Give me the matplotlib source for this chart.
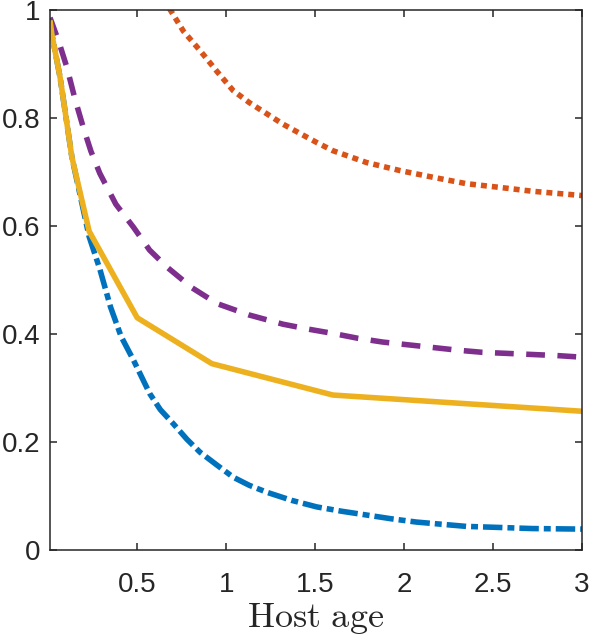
import matplotlib.pyplot as plt

# === DATA ===
# solid yellow curve (piecewise linear)
age_yellow = [0.01, 0.02, 0.067, 0.133, 0.23, 0.5, 0.92, 1.6, 3.0]
val_yellow = [0.98, 0.955, 0.874, 0.727, 0.59, 0.43, 0.345, 0.287, 0.257]

# dash-dot blue curve
age_blue = [0.01, 0.02, 0.067, 0.133, 0.23, 0.26, 0.29, 0.32, 0.35, 0.41, 0.48,
            0.57, 0.63, 0.70, 0.78, 0.854, 0.95, 1.04, 1.13, 1.23, 1.37, 1.51,
            1.65, 1.79, 1.93, 2.07, 2.21, 2.35, 2.54, 2.72, 2.86, 3.0]
val_blue = [0.98, 0.955, 0.874, 0.727, 0.58, 0.55, 0.52, 0.485, 0.45, 0.395, 0.351,
            0.29, 0.26, 0.235, 0.205, 0.181, 0.157, 0.135, 0.12, 0.107, 0.092, 0.08,
            0.072, 0.065, 0.058, 0.052, 0.048, 0.044, 0.042, 0.04, 0.0395, 0.039]

# dashed purple curve
age_purple = [0.01, 0.06, 0.105, 0.15, 0.197, 0.24, 0.29, 0.38, 0.48, 0.57, 0.67,
              0.81, 0.95, 1.13, 1.32, 1.46, 1.6, 1.74, 1.88, 2.02, 2.16, 2.3,
              2.44, 2.58, 2.72, 2.86, 3.0]
val_purple = [0.985, 0.94, 0.893, 0.835, 0.782, 0.738, 0.697, 0.64, 0.597, 0.555,
              0.523, 0.485, 0.456, 0.435, 0.418, 0.409, 0.401, 0.392, 0.385, 0.38,
              0.375, 0.37, 0.366, 0.364, 0.362, 0.36, 0.357]

# dotted orange curve (goes above 1 on the left, clipped)
age_orange = [0.6, 0.685, 0.76, 0.854, 0.95, 1.04, 1.13, 1.23, 1.32, 1.42, 1.51,
              1.6, 1.79, 1.98, 2.16, 2.35, 2.54, 2.72, 2.86, 3.0]
val_orange = [1.05, 1.0, 0.96, 0.924, 0.885, 0.85, 0.828, 0.807, 0.788, 0.77, 0.754,
              0.739, 0.717, 0.702, 0.69, 0.678, 0.671, 0.664, 0.66, 0.656]

x_ticks = [0.5, 1, 1.5, 2, 2.5, 3]
x_tick_labels = ["0.5", "1", "1.5", "2", "2.5", "3"]
y_ticks = [0, 0.2, 0.4, 0.6, 0.8, 1]
y_tick_labels = ["0", "0.2", "0.4", "0.6", "0.8", "1"]

# === PLOT ===
plt.rcParams["font.family"] = ["Liberation Sans", "DejaVu Sans"]
plt.rcParams["mathtext.fontset"] = "cm"
plt.rcParams["lines.scale_dashes"] = False

fig = plt.figure(figsize=(5.89, 6.39), dpi=100)
ax = fig.add_axes([0.0849, 0.139, 0.9031, 0.846])

lw = 4
ax.plot(age_orange, val_orange, color="#D95319", lw=lw, dashes=(4.3, 3.6),
        dash_capstyle="butt")
ax.plot(age_purple, val_purple, color="#7E2F8E", lw=lw, dashes=(13.5, 9),
        dash_capstyle="butt")
ax.plot(age_blue, val_blue, color="#0072BD", lw=lw, dashes=(14, 3.6, 5, 3.6),
        dash_capstyle="butt")
ax.plot(age_yellow, val_yellow, color="#EDB120", lw=lw, solid_capstyle="butt")

ax.set_xlim(0.01, 3)
ax.set_ylim(0, 1)
ax.set_xticks(x_ticks)
ax.set_xticklabels(x_tick_labels)
ax.set_yticks(y_ticks)
ax.set_yticklabels(y_tick_labels)

for side in ax.spines.values():
    side.set_color("#262626")
    side.set_linewidth(1.1)
ax.tick_params(direction="in", length=5, width=1.1, color="#262626",
               labelcolor="#262626", labelsize=20, top=True, right=True)
ax.tick_params(axis="x", pad=16)
ax.tick_params(axis="y", pad=7)

ax.set_xlabel(r"$\mathrm{Host\ age}$", fontsize=26, color="#262626", labelpad=2)

fig.savefig("out.png", dpi=100)
